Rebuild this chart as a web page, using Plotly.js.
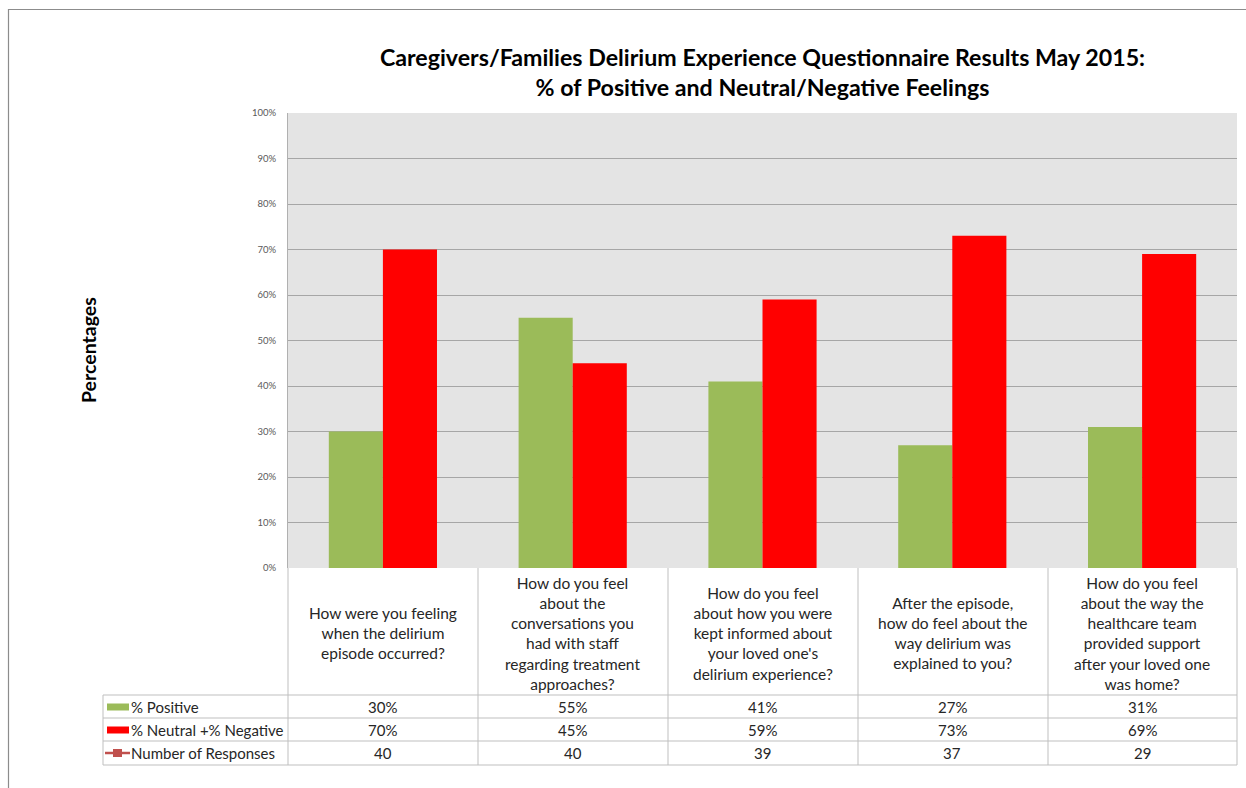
<!DOCTYPE html>
<html>
<head>
<meta charset="utf-8">
<script src="https://cdn.plot.ly/plotly-3.0.1.min.js"></script>
<style>
  html, body { margin: 0; padding: 0; background: #ffffff; }
  #chart { width: 1246px; height: 788px; }
</style>
</head>
<body>
<div id="chart"></div>
<script>
// ---- data ----
const categories = [
  "How were you feeling<br>when the delirium<br>episode occurred?",
  "How do you feel<br>about the<br>conversations you<br>had with staff<br>regarding treatment<br>approaches?",
  "How do you feel<br>about how you were<br>kept informed about<br>your loved one's<br>delirium experience?",
  "After the episode,<br>how do feel about the<br>way delirium was<br>explained to you?",
  "How do you feel<br>about the way the<br>healthcare team<br>provided support<br>after your loved one<br>was home?"
];
const seriesNames = ["% Positive", "% Neutral +% Negative", "Number of Responses"];
const positive = [0.30, 0.55, 0.41, 0.27, 0.31];
const neutralNegative = [0.70, 0.45, 0.59, 0.73, 0.69];
const responses = [40, 40, 39, 37, 29];
const yTickVals = [0, 0.1, 0.2, 0.3, 0.4, 0.5, 0.6, 0.7, 0.8, 0.9, 1.0];

// ---- layout helpers (pixel -> paper) ----
const W = 1246, H = 788;
const L = 288, R = 1237, T = 113, B = 568;
const px = x => (x - L) / (R - L);
const py = y => (B - y) / (B - T);

const green = "#9BBB59", red = "#FF0000", lineRed = "#C0504D";
const gridCol = "#A6A6A6", tableCol = "#BFBFBF";
const FONT = "Lato, 'Open Sans', sans-serif";

const traces = [
  { type: "bar", name: seriesNames[0], x: categories, y: positive,
    marker: { color: green }, hoverinfo: "skip" },
  { type: "bar", name: seriesNames[1], x: categories, y: neutralNegative,
    marker: { color: red }, hoverinfo: "skip" }
];

const shapes = [];
const annotations = [];

// outer chart border (top & left)
shapes.push({ type: "line", xref: "paper", yref: "paper", x0: px(8), x1: px(1246), y0: py(9.5), y1: py(9.5),
  line: { color: "#8C8C8C", width: 1.2 } });
shapes.push({ type: "line", xref: "paper", yref: "paper", x0: px(8.5), x1: px(8.5), y0: py(9), y1: py(788),
  line: { color: "#8C8C8C", width: 1.2 } });

// table grid
const colEdges = [288, 478, 668, 858, 1048, 1237];
colEdges.forEach(cx => shapes.push({ type: "line", xref: "paper", yref: "paper",
  x0: px(cx), x1: px(cx), y0: py(568), y1: py(765), line: { color: tableCol, width: 1 } }));
shapes.push({ type: "line", xref: "paper", yref: "paper", x0: px(103), x1: px(103), y0: py(695), y1: py(765),
  line: { color: tableCol, width: 1 } });
[695, 718, 741, 765].forEach(ry => shapes.push({ type: "line", xref: "paper", yref: "paper",
  x0: px(103), x1: px(1237), y0: py(ry), y1: py(ry), line: { color: tableCol, width: 1 } }));

// category header text
categories.forEach(c => annotations.push({ xref: "x", yref: "paper", x: c, y: py(633),
  xanchor: "center", yanchor: "middle", text: c, showarrow: false, align: "center",
  font: { family: FONT, size: 15.5, color: "#262626" } }));

// table rows
const rowY = [707, 730, 753];
const rowVals = [
  positive.map(v => Math.round(v * 100) + "%"),
  neutralNegative.map(v => Math.round(v * 100) + "%"),
  responses.map(v => String(v))
];
rowY.forEach((ry, ri) => {
  annotations.push({ xref: "paper", yref: "paper", x: px(129), y: py(ry), xanchor: "left", yanchor: "middle",
    text: seriesNames[ri], showarrow: false, font: { family: FONT, size: 15, color: "#262626" } });
  categories.forEach((c, ci) => annotations.push({ xref: "x", yref: "paper", x: c, y: py(ry),
    xanchor: "center", yanchor: "middle", text: rowVals[ri][ci], showarrow: false,
    font: { family: FONT, size: 15, color: "#262626" } }));
});

// legend keys inside table
shapes.push({ type: "rect", xref: "paper", yref: "paper", x0: px(107), x1: px(129), y0: py(703.5), y1: py(710.5),
  fillcolor: green, line: { width: 0 } });
shapes.push({ type: "rect", xref: "paper", yref: "paper", x0: px(107), x1: px(129), y0: py(726.5), y1: py(733.5),
  fillcolor: red, line: { width: 0 } });
shapes.push({ type: "line", xref: "paper", yref: "paper", x0: px(105), x1: px(130), y0: py(753), y1: py(753),
  line: { color: lineRed, width: 2.5 } });
shapes.push({ type: "rect", xref: "paper", yref: "paper", x0: px(113), x1: px(122), y0: py(749), y1: py(757),
  fillcolor: lineRed, line: { width: 0 } });

// y-axis title
annotations.push({ xref: "paper", yref: "paper", x: px(88), y: py(350), xanchor: "center", yanchor: "middle",
  text: "<b>Percentages</b>", textangle: -90, showarrow: false,
  font: { family: FONT, size: 19.5, color: "#000000" } });

const layout = {
  width: W, height: H,
  margin: { l: L, r: W - R, t: T, b: H - B, pad: 0 },
  paper_bgcolor: "#ffffff",
  plot_bgcolor: "#E4E4E4",
  showlegend: false,
  barmode: "group",
  bargap: 0.43,
  bargroupgap: 0,
  title: {
    text: "<b>Caregivers/Families Delirium Experience Questionnaire Results May 2015:<br>% of Positive and Neutral/Negative Feelings</b>",
    font: { family: FONT, size: 23.2, color: "#000000" },
    xref: "paper", x: 0.5, xanchor: "center",
    yref: "container", y: 1 - 66 / H, yanchor: "middle"
  },
  xaxis: {
    type: "category", showticklabels: false, ticks: "", showgrid: false, zeroline: false,
    showline: false, fixedrange: true
  },
  yaxis: {
    range: [0, 1], tickvals: yTickVals, tickformat: ".0%",
    showgrid: true, gridcolor: gridCol, gridwidth: 1,
    zeroline: false, showline: true, linecolor: "#B0B0B0", linewidth: 1,
    ticks: "", ticklabelstandoff: 9,
    tickfont: { family: FONT, size: 9.5, color: "#595959" }, fixedrange: true
  },
  shapes: shapes,
  annotations: annotations,
  font: { family: FONT }
};

Plotly.newPlot("chart", traces, layout, { displayModeBar: false, staticPlot: true });
</script>
</body>
</html>
